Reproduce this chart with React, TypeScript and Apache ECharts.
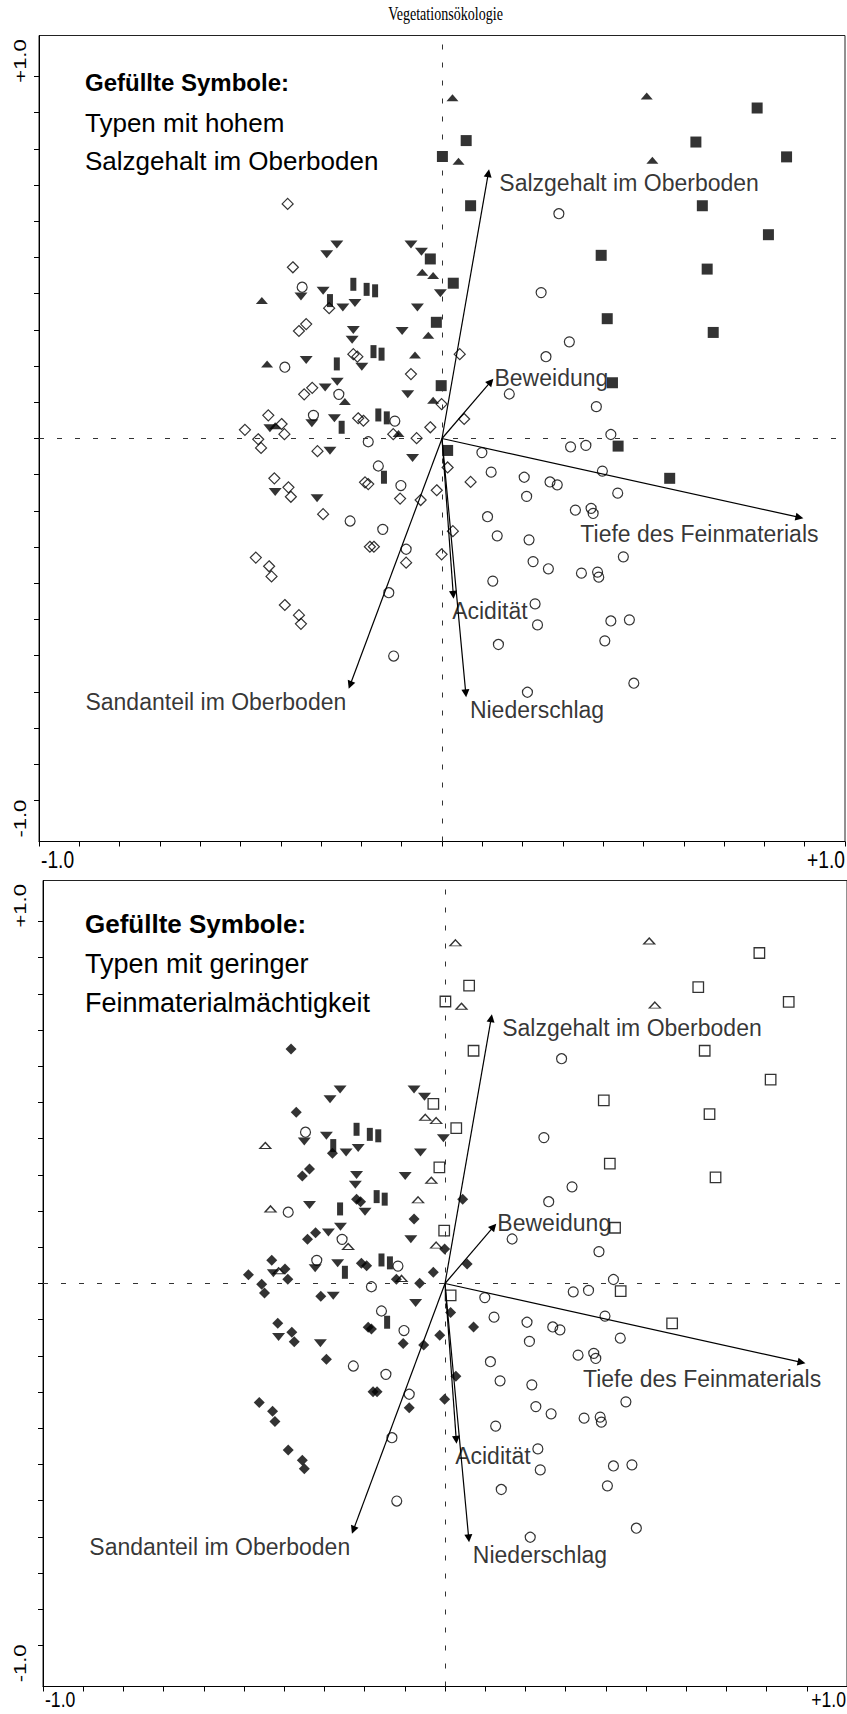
import React, { useEffect, useRef } from 'react';
import * as echarts from 'echarts';

// ---- data (ordination scores) ----
const circles: [number, number][] = [
  [0.290, 0.621], [0.246, 0.403], [0.316, 0.267], [0.258, 0.226], [0.167, 0.123], [0.383, 0.088],
  [0.419, 0.011], [0.319, -0.023], [0.357, -0.019], [0.099, -0.039], [0.122, -0.093], [0.204, -0.107],
  [0.268, -0.120], [0.286, -0.128], [0.398, -0.090], [0.210, -0.160], [0.436, -0.151], [-0.347, 0.418],
  [-0.390, 0.197], [-0.256, 0.122], [-0.319, 0.064], [-0.117, 0.048], [-0.183, -0.009], [-0.158, -0.076],
  [-0.102, -0.130], [-0.228, -0.228], [-0.147, -0.251], [-0.089, -0.306], [-0.132, -0.426], [-0.120, -0.601],
  [0.113, -0.216], [0.331, -0.198], [0.370, -0.193], [0.375, -0.207], [0.137, -0.269], [0.216, -0.280],
  [0.226, -0.340], [0.264, -0.360], [0.346, -0.372], [0.386, -0.369], [0.389, -0.383], [0.126, -0.394],
  [0.231, -0.457], [0.237, -0.515], [0.419, -0.504], [0.465, -0.501], [0.404, -0.559], [0.140, -0.569],
  [0.212, -0.701], [0.450, -0.327], [0.476, -0.676],
];

const diamonds: [number, number][] = [
  [-0.383, 0.648], [-0.370, 0.473], [-0.280, 0.360], [-0.337, 0.316], [-0.355, 0.297], [-0.220, 0.233],
  [-0.210, 0.226], [0.044, 0.233], [-0.077, 0.178], [-0.322, 0.140], [-0.342, 0.122], [-0.001, 0.095],
  [-0.431, 0.064], [-0.398, 0.040], [-0.391, 0.012], [-0.489, 0.024], [-0.456, -0.002], [-0.449, -0.026],
  [-0.309, -0.035], [-0.208, 0.056], [-0.195, 0.049], [-0.121, 0.012], [-0.063, 0.001], [-0.029, 0.031],
  [0.055, 0.054], [0.014, -0.080], [0.071, -0.120], [-0.416, -0.110], [-0.381, -0.135], [-0.375, -0.161],
  [-0.191, -0.121], [-0.183, -0.126], [-0.013, -0.143], [-0.104, -0.166], [-0.053, -0.170], [-0.295, -0.209],
  [0.027, -0.256], [-0.179, -0.299], [-0.169, -0.299], [-0.089, -0.343], [-0.001, -0.320], [-0.462, -0.329],
  [-0.429, -0.353], [-0.423, -0.381], [-0.390, -0.460], [-0.355, -0.488], [-0.350, -0.512],
];

const upTriangles: [number, number][] = [
  [0.026, 0.941], [0.508, 0.946], [0.041, 0.766], [0.522, 0.769], [-0.049, 0.459], [-0.022, 0.450],
  [-0.447, 0.381], [-0.034, 0.285], [-0.067, 0.231], [-0.434, 0.206], [-0.241, 0.102], [-0.022, 0.106],
  [-0.108, 0.014], [-0.414, 0.035],
];

const downTriangles: [number, number][] = [
  [-0.261, 0.536], [-0.286, 0.509], [-0.077, 0.536], [-0.051, 0.516], [-0.350, 0.392], [-0.295, 0.408],
  [-0.246, 0.362], [-0.216, 0.374], [-0.004, 0.401], [-0.061, 0.362], [-0.220, 0.300], [-0.223, 0.273],
  [-0.099, 0.297], [-0.337, 0.217], [-0.199, 0.198], [-0.260, 0.157], [-0.290, 0.141], [-0.085, 0.122],
  [-0.323, 0.042], [-0.267, 0.056], [-0.427, 0.028], [-0.278, -0.034], [-0.073, -0.054], [-0.414, -0.148],
  [-0.310, -0.165],
];

const bars: [number, number][] = [
  [-0.220, 0.426], [-0.187, 0.412], [-0.166, 0.408], [-0.278, 0.381], [-0.170, 0.240], [-0.150, 0.233],
  [-0.261, 0.206], [-0.158, 0.065], [-0.137, 0.057], [-0.249, 0.031], [-0.144, -0.107],
];

const squares: [number, number][] = [
  [0.782, 0.913], [0.060, 0.823], [0.630, 0.819], [0.001, 0.779], [0.855, 0.778], [0.071, 0.643],
  [0.646, 0.643], [0.810, 0.563], [0.395, 0.506], [0.658, 0.468], [-0.029, 0.496], [0.028, 0.429],
  [0.410, 0.331], [0.673, 0.293], [-0.014, 0.321], [0.423, 0.154], [-0.002, 0.146], [0.437, -0.021],
  [0.014, -0.033], [0.565, -0.110],
];

const vectorNames = [
  'Salzgehalt im Oberboden', 'Beweidung', 'Tiefe des Feinmaterials',
  'Acidität', 'Niederschlag', 'Sandanteil im Oberboden',
];
const vectorTips: [number, number][] = [
  [0.115, 0.733], [0.121, 0.157], [0.887, -0.218], [0.028, -0.432], [0.059, -0.704], [-0.228, -0.681],
];
const vectorLabelAnchors: [number, number][] = [
  [0.141, 0.706], [0.129, 0.168], [0.342, -0.265], [0.024, -0.476], [0.068, -0.750], [-0.886, -0.727],
];

const yTickValues = [
  -1.0, -0.9, -0.8, -0.7, -0.6, -0.5, -0.4, -0.3, -0.2, -0.1, 0,
  0.1, 0.2, 0.3, 0.4, 0.5, 0.6, 0.7, 0.8, 0.9, 1.0,
];
const axisEndLabels = ['-1.0', '+1.0'];
const titleText = 'Vegetationsökologie';
const headingBold = 'Gefüllte Symbole:';
const panelHeadings = [
  ['Typen mit hohem', 'Salzgehalt im Oberboden'],
  ['Typen mit geringer', 'Feinmaterialmächtigkeit'],
];

// ---- layout / style ----
const SANS = '"Liberation Sans", Arial, Helvetica, sans-serif';
const SERIF = '"Liberation Serif", "Times New Roman", serif';
const Y_EXTENT = 1.1133;

const panels = [
  {
    left: 39, top: 35.5, size: 806,
    diamondFilled: false, squareFilled: true, upFilled: true,
    headY: [82, 122.5, 161], boldSize: 24, headSize: 26,
    xLabY: 860, xLabSize: 24, xLabRight: 845, yLabX: 20, yLabTop: 61, yLabBottom: 818.6,
  },
  {
    left: 43, top: 880.5, size: 806,
    diamondFilled: true, squareFilled: false, upFilled: false,
    headY: [923.5, 964, 1003], boldSize: 26, headSize: 27,
    xLabY: 1699, xLabSize: 22, xLabRight: 846, yLabX: 20, yLabTop: 905.8, yLabBottom: 1663.4,
  },
];

const filled = { color: '#000', borderWidth: 0 };
const hollow = { color: 'rgba(255,255,255,0)', borderColor: '#000', borderWidth: 1.2 };

function txt(x: number, y: number, text: string, extra: any, align: string) {
  return {
    type: 'text', x, y, ...extra.transform,
    style: {
      text, fill: '#000', fontFamily: SANS, ...extra.style,
      align, verticalAlign: 'middle', textAlign: align, textVerticalAlign: 'middle',
    },
  };
}

function buildOption() {
  const grid: any[] = [];
  const xAxis: any[] = [];
  const yAxis: any[] = [];
  const series: any[] = [];
  const graphic: any[] = [];

  graphic.push(txt(445.5, 14, titleText, {
    transform: { scaleX: 0.76 },
    style: { fontSize: 18.5, fontFamily: SERIF },
  }, 'center'));

  panels.forEach((p, i) => {
    grid.push({
      left: p.left, top: p.top, width: p.size, height: p.size,
      show: true, borderColor: '#222', borderWidth: 1, backgroundColor: 'transparent',
    });
    xAxis.push({
      type: 'value', gridIndex: i, min: -1, max: 1, interval: 0.1,
      axisLine: { show: true, onZero: false, lineStyle: { color: '#000', width: 1 } },
      axisTick: { show: true, inside: false, length: 5, lineStyle: { color: '#000', width: 1 } },
      axisLabel: { show: false }, splitLine: { show: false },
    });
    yAxis.push({
      type: 'value', gridIndex: i, min: -Y_EXTENT, max: Y_EXTENT,
      axisLine: { show: true, onZero: false, lineStyle: { color: '#000', width: 1 } },
      axisTick: { show: true, inside: false, length: 5, customValues: yTickValues, lineStyle: { color: '#000', width: 1 } },
      axisLabel: { show: false }, splitLine: { show: false },
    });

    const common = { xAxisIndex: i, yAxisIndex: i, silent: true, animation: false };

    series.push({
      ...common, type: 'scatter', symbol: 'circle', symbolSize: 10,
      itemStyle: hollow, data: circles,
      markLine: {
        silent: true, symbol: 'none', animation: false,
        label: { show: false },
        lineStyle: { color: '#333', width: 1, type: [5, 13] },
        data: [{ xAxis: 0 }, { yAxis: 0 }],
      },
    });
    series.push({
      ...common, type: 'scatter', symbol: 'diamond', symbolSize: 11,
      itemStyle: p.diamondFilled ? filled : hollow, data: diamonds,
    });
    series.push({
      ...common, type: 'scatter', symbol: 'rect', symbolSize: p.squareFilled ? 11 : 10.5,
      itemStyle: p.squareFilled ? filled : { ...hollow, borderWidth: 1.3 }, data: squares,
    });
    series.push({
      ...common, type: 'scatter', symbol: 'triangle', symbolSize: p.upFilled ? [12, 7] : [11, 6],
      itemStyle: p.upFilled ? filled : { ...hollow, borderWidth: 1.3 }, data: upTriangles,
    });
    series.push({
      ...common, type: 'scatter', symbol: 'triangle', symbolRotate: 180, symbolSize: [13, 8],
      itemStyle: filled, data: downTriangles,
    });
    series.push({
      ...common, type: 'scatter', symbol: 'rect', symbolSize: [6, 13],
      itemStyle: filled, data: bars,
    });
    series.push({
      ...common, type: 'lines', coordinateSystem: 'cartesian2d', z: 5,
      symbol: ['none', 'triangle'], symbolSize: 8,
      lineStyle: { color: '#000', width: 1.2, opacity: 1, curveness: 0 },
      data: vectorTips.map((t) => ({ coords: [[0, 0], t] })),
    });
    series.push({
      ...common, type: 'scatter', symbolSize: 1, z: 6,
      itemStyle: { color: 'rgba(0,0,0,0)' },
      label: {
        show: true, position: 'right', distance: 0, formatter: '{b}',
        fontSize: 23, fontFamily: SANS, color: '#000',
      },
      data: vectorNames.map((n, k) => ({ name: n, value: vectorLabelAnchors[k] })),
    });

    // heading text block
    const hx = 85;
    graphic.push(txt(hx, p.headY[0], headingBold, {
      style: { fontSize: p.boldSize, fontWeight: 'bold' },
    }, 'left'));
    panelHeadings[i].forEach((t, k) => {
      graphic.push(txt(hx, p.headY[k + 1], t, { style: { fontSize: p.headSize } }, 'left'));
    });

    // axis end labels
    const xl = p.left;
    graphic.push(txt(xl + 2, p.xLabY, axisEndLabels[0], {
      transform: { scaleX: 0.8 }, style: { fontSize: p.xLabSize },
    }, 'left'));
    graphic.push(txt(p.xLabRight, p.xLabY, axisEndLabels[1], {
      transform: { scaleX: 0.8 }, style: { fontSize: p.xLabSize },
    }, 'right'));
    graphic.push(txt(p.yLabX, p.yLabTop, axisEndLabels[1], {
      transform: { rotation: Math.PI / 2, scaleY: 0.78 }, style: { fontSize: 22 },
    }, 'center'));
    graphic.push(txt(p.yLabX, p.yLabBottom, axisEndLabels[0], {
      transform: { rotation: Math.PI / 2, scaleY: 0.78 }, style: { fontSize: 22 },
    }, 'center'));
  });

  return {
    animation: false,
    backgroundColor: '#fff',
    grid, xAxis, yAxis, series, graphic,
  };
}

export default function App() {
  const ref = useRef<HTMLDivElement>(null);
  useEffect(() => {
    if (!ref.current) return;
    const chart = echarts.init(ref.current, null, { renderer: 'svg' });
    chart.setOption(buildOption() as any);
    return () => chart.dispose();
  }, []);
  return (
    <div
      ref={ref}
      style={{ position: 'absolute', left: 0, top: 0, width: 847, height: 1714, background: '#fff' }}
    />
  );
}
